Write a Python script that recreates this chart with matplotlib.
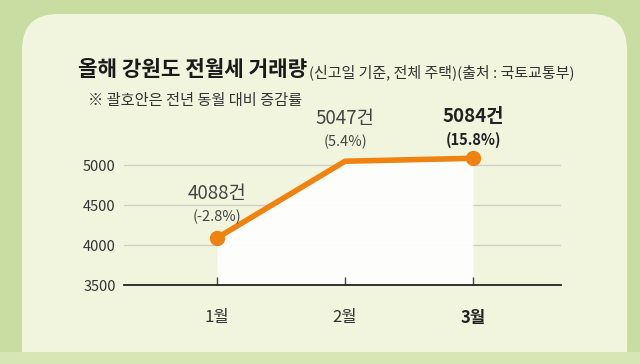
import matplotlib
matplotlib.use('Agg')
import matplotlib.pyplot as plt
from matplotlib.patches import FancyBboxPatch, Rectangle

plt.rcParams['font.family'] = ['Noto Sans CJK KR', 'DejaVu Sans']

# data
months = ['1월', '2월', '3월']
counts = [4088, 5047, 5084]
changes = ['(-2.8%)', '(5.4%)', '(15.8%)']
yticks = [3500, 4000, 4500, 5000]

orange = '#f0820f'
card_color = '#f1f5de'
outer_color = '#c9dca2'

fig = plt.figure(figsize=(6.4, 3.64), dpi=100)
fig.patch.set_facecolor(outer_color)

# background card in pixel coordinates
bg = fig.add_axes([0, 0, 1, 1])
bg.set_xlim(0, 640)
bg.set_ylim(364, 0)
bg.axis('off')
bg.add_patch(FancyBboxPatch((22, 14), 605, 370, boxstyle='round,pad=0,rounding_size=36',
                            facecolor=card_color, edgecolor='none'))
bg.add_patch(Rectangle((0, 352), 640, 12, facecolor='#d6e6b5', edgecolor='none'))

# titles
title = bg.text(78, 70, '올해 강원도 전월세 거래량', fontsize=15.3, fontweight='bold',
                color='#1a1a1a', va='center', ha='left')
fig.canvas.draw()
tb = title.get_window_extent()
bg.text(tb.x1 + 2, 72, '(신고일 기준, 전체 주택)(출처 : 국토교통부)', fontsize=10.8,
        color='#333333', va='center', ha='left')
bg.text(88, 101, '※ 괄호안은 전년 동월 대비 증감률', fontsize=11,
        color='#333333', va='center', ha='left')

# chart axes: x 124..561 px, y 3500 at 285 px, 5000 at 165 px
ymin = 3500
y_top_px = 128
y_bot_px = 285
px_per_unit = (285 - 165) / 1500
ax_ymax = ymin + (y_bot_px - y_top_px) / px_per_unit
ax = fig.add_axes([124 / 640, 1 - y_bot_px / 364, (561 - 124) / 640, (y_bot_px - y_top_px) / 364])
ax.patch.set_alpha(0)

x = list(range(len(months)))
ax.set_xlim(-0.727, 2.6875)
ax.set_ylim(ymin, ax_ymax)

ax.fill_between(x, counts, ymin, color='white', alpha=0.92, linewidth=0, zorder=1)
for v in yticks[1:]:
    ax.axhline(v, color='#cfd0c8', linewidth=1, zorder=0)
ax.plot(x, counts, color=orange, linewidth=4, solid_capstyle='round', zorder=3)
ax.plot([x[0], x[-1]], [counts[0], counts[-1]], 'o', color=orange, markersize=10, zorder=4)

for s in ['top', 'right', 'left']:
    ax.spines[s].set_visible(False)
ax.spines['bottom'].set_color('#222222')
ax.spines['bottom'].set_linewidth(1.3)

ax.set_yticks(yticks)
ax.set_yticklabels([str(v) for v in yticks], fontsize=10.5, color='#333333')
ax.tick_params(axis='y', length=0, pad=6)
ax.set_xticks(x)
ax.set_xticklabels(months, fontsize=12, color='#333333')
ax.tick_params(axis='x', direction='in', length=6, width=1, color='#444444', pad=17)
ax.get_xticklabels()[-1].set_fontweight('bold')
ax.get_xticklabels()[-1].set_color('#222222')

# value labels
label_offsets = [(44, 21), (43, 19), (42, 18)]
for i, (c, ch) in enumerate(zip(counts, changes)):
    bold = i == len(counts) - 1
    fw = 'bold' if bold else 'normal'
    col = '#222222' if bold else '#444444'
    d1, d2 = label_offsets[i]
    ax.annotate(f'{c}건', (i, c), xytext=(0, d1), textcoords='offset pixels',
                ha='center', va='center', fontsize=13.5, fontweight=fw, color=col)
    ax.annotate(ch, (i, c), xytext=(0, d2), textcoords='offset pixels',
                ha='center', va='center', fontsize=10.5, fontweight=fw, color=col)

fig.savefig('out.png', dpi=100, facecolor=fig.get_facecolor())
